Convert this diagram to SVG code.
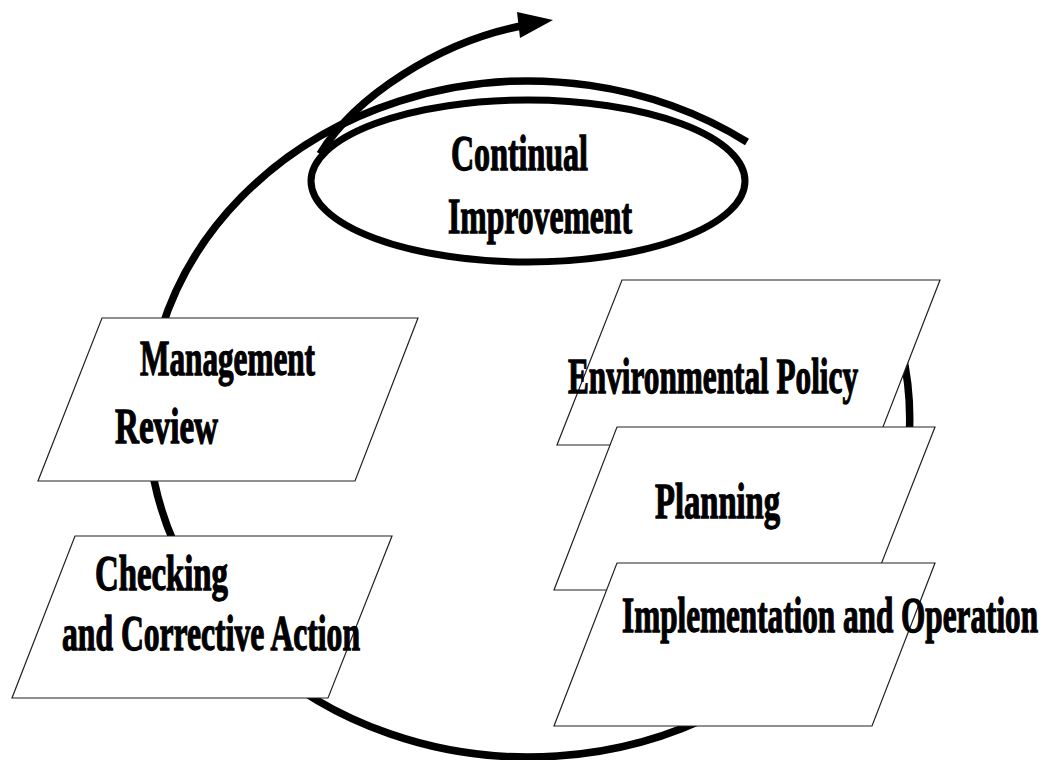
<svg xmlns="http://www.w3.org/2000/svg" width="1050" height="760" viewBox="0 0 1050 760">
<style>
  .bg { fill: #ffffff; }
  .loop { fill: none; stroke: #000000; stroke-width: 7.5; stroke-linecap: butt; }
  .para { fill: #ffffff; stroke: #222222; stroke-width: 1.2; }
  .ell { fill: none; stroke: #000000; stroke-width: 7; }
  .lbl { font-family: "Liberation Serif", "Times New Roman", serif; font-weight: bold; font-size: 50px; fill: #000000; stroke: #000000; stroke-width: 1.3; }
</style>
<rect class="bg" x="0" y="0" width="1050" height="760"/>
<g id="connectors">
  <path id="cycle" class="loop" d="M 747 142 A 381 338 0 1 0 877 282"/>
  <path id="improve-arrow" class="loop" d="M 320 154 C 355 96, 440 42, 521 26"/>
  <polygon points="553,20 517,12 520,38" fill="#000000"/>
</g>
<g id="continual-improvement">
  <ellipse class="ell" cx="528" cy="181" rx="217" ry="81"/>
  <text class="lbl" x="451" y="170" textLength="137" lengthAdjust="spacingAndGlyphs">Continual</text>
  <text class="lbl" x="448" y="233" textLength="184" lengthAdjust="spacingAndGlyphs">Improvement</text>
</g>
<g id="management-review">
  <polygon class="para" points="102,318 418,318 355,481 38,481"/>
  <text class="lbl" x="140" y="375" textLength="175" lengthAdjust="spacingAndGlyphs">Management</text>
  <text class="lbl" x="115" y="443" textLength="103" lengthAdjust="spacingAndGlyphs">Review</text>
</g>
<g id="checking">
  <polygon class="para" points="75,536 392,536 328,698 12,698"/>
  <text class="lbl" x="95" y="590" textLength="133" lengthAdjust="spacingAndGlyphs">Checking</text>
  <text class="lbl" x="62" y="650" textLength="298" lengthAdjust="spacingAndGlyphs">and Corrective Action</text>
</g>
<g id="environmental-policy">
  <polygon class="para" points="622,280 940,280 876,445 557,445"/>
  <text class="lbl" x="568" y="393" textLength="290" lengthAdjust="spacingAndGlyphs">Environmental Policy</text>
</g>
<g id="planning">
  <polygon class="para" points="617,427 935,427 871,590 554,590"/>
  <text class="lbl" x="655" y="518" textLength="125" lengthAdjust="spacingAndGlyphs">Planning</text>
</g>
<g id="implementation">
  <polygon class="para" points="617,563 935,563 872,726 554,726"/>
  <text class="lbl" x="622" y="632" textLength="416" lengthAdjust="spacingAndGlyphs">Implementation and Operation</text>
</g>
</svg>
